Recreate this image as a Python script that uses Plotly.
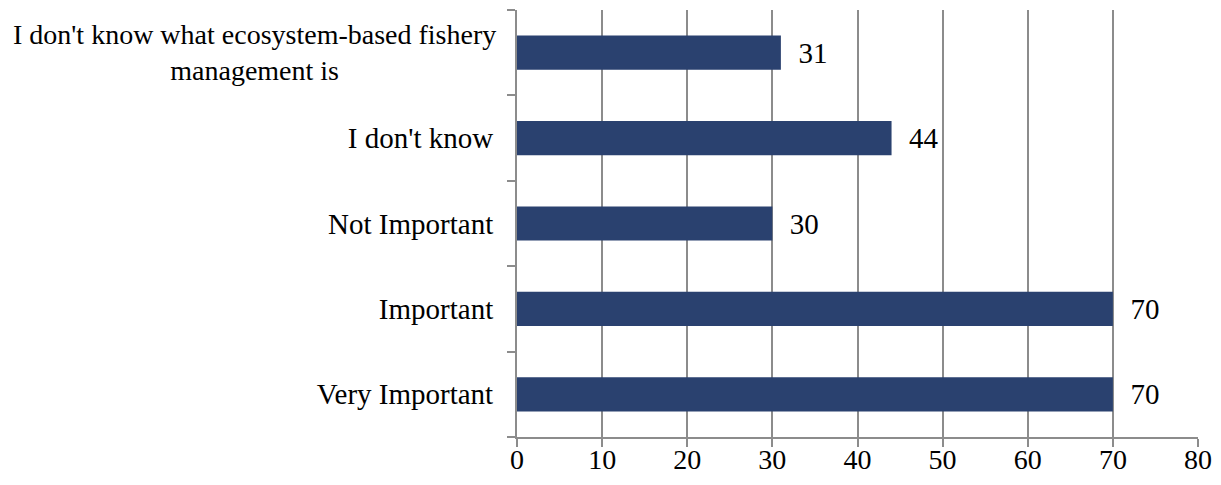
import plotly.graph_objects as go

categories = ["Very Important", "Important", "Not Important", "I don't know",
              "I don't know what ecosystem-based fishery management is"]
tick_labels = ["Very Important", "Important", "Not Important", "I don't know", ""]
values = [70, 70, 30, 44, 31]
x_ticks = [0, 10, 20, 30, 40, 50, 60, 70, 80]

FONT = "Liberation Serif"
FS = 29
GRID = "#8c8c8c"

fig = go.Figure(go.Bar(
    y=categories, x=values, orientation="h",
    marker=dict(color="#2a416f", line=dict(width=0)),
    text=["\u00a0\u00a0" + str(v) for v in values], textposition="outside",
    textfont=dict(family=FONT, size=FS, color="black"),
    cliponaxis=False, width=0.4,
))

fig.update_layout(
    width=1205, height=469,
    margin=dict(l=509, r=15, t=2, b=40),
    paper_bgcolor="white", plot_bgcolor="white",
    showlegend=False,
    font=dict(family=FONT, size=FS, color="black"),
    xaxis=dict(range=[0, 80], tickvals=x_ticks, showgrid=True, gridcolor=GRID,
               gridwidth=2, showline=True, linecolor=GRID, linewidth=2,
               ticks="outside", ticklen=8, tickcolor=GRID, tickwidth=2,
               zeroline=False, ticklabelstandoff=-12, automargin=False,
               tickfont=dict(family=FONT, size=28)),
    yaxis=dict(type="category", categoryorder="array", categoryarray=categories,
               tickvals=categories, ticktext=tick_labels,
               showline=True, linecolor=GRID, linewidth=2,
               ticks="outside", ticklen=8, tickcolor=GRID, tickwidth=2,
               tickson="boundaries", showgrid=False, automargin=False,
               ticklabelstandoff=16, tickfont=dict(family=FONT, size=FS)),
)

fig.add_annotation(
    text="I don't know what ecosystem-based fishery<br>management is",
    xref="paper", yref="y", x=0, y=categories[4], xanchor="right",
    yanchor="middle", xshift=-19, align="center", showarrow=False,
    font=dict(family=FONT, size=28, color="black"),
)

fig.write_html("out.html")
